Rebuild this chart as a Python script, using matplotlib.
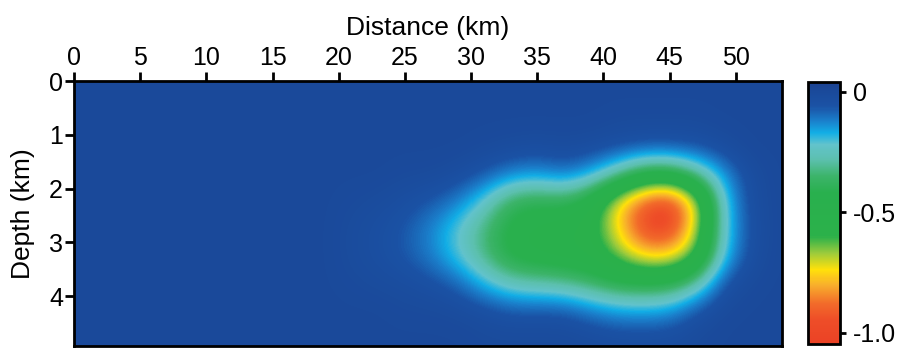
import numpy as np
import matplotlib
matplotlib.use("Agg")
import matplotlib.pyplot as plt
from matplotlib.colors import LinearSegmentedColormap, Normalize

plt.rcParams['font.family'] = ['Liberation Sans', 'DejaVu Sans']
plt.rcParams['axes.unicode_minus'] = False

# ---- data -------------------------------------------------------------
# grid cell centres (km)
x_centers = [1, 3, 5, 7, 9, 11, 13, 15, 17, 19, 21, 23, 25, 27,
             29, 31, 33, 35, 37, 39, 41, 43, 45, 47, 49, 51, 53]
depth_centers = [0.25, 0.75, 1.25, 1.75, 2.25, 2.75, 3.25, 3.75, 4.25, 4.75]

# values for x = 21 ... 53 (columns x = 1 ... 19 are background 0)
row_d025 = [0, 0, 0, 0, 0, 0, 0, 0, 0, 0, 0, 0, 0, 0, 0, 0, 0]
row_d075 = [0, 0, 0, 0, 0, 0, 0, 0, 0, 0, -0.01, -0.01, -0.01, -0.01, 0, 0, 0]
row_d125 = [0, 0, 0, 0, 0, -0.01, -0.02, -0.03, -0.02, -0.03, -0.05, -0.07, -0.07, -0.06, -0.03, 0, 0]
row_d175 = [0, 0, -0.01, -0.01, -0.03, -0.07, -0.13, -0.15, -0.11, -0.17, -0.30, -0.45, -0.46, -0.32, -0.15, -0.03, 0]
row_d225 = [-0.01, -0.02, -0.04, -0.07, -0.12, -0.23, -0.39, -0.42, -0.40, -0.49, -0.74, -0.92, -1.00, -0.72, -0.21, -0.04, 0]
row_d275 = [-0.02, -0.04, -0.07, -0.13, -0.22, -0.34, -0.45, -0.48, -0.50, -0.55, -0.74, -0.97, -1.00, -0.70, -0.22, -0.05, 0]
row_d325 = [-0.02, -0.04, -0.07, -0.12, -0.21, -0.33, -0.45, -0.48, -0.50, -0.52, -0.64, -0.76, -0.76, -0.60, -0.20, -0.04, 0]
row_d375 = [-0.01, -0.02, -0.03, -0.05, -0.09, -0.19, -0.27, -0.29, -0.31, -0.36, -0.42, -0.43, -0.42, -0.30, -0.06, -0.01, 0]
row_d425 = [0, 0, -0.01, -0.01, -0.02, -0.04, -0.07, -0.07, -0.07, -0.12, -0.16, -0.17, -0.15, -0.06, -0.01, 0, 0]
row_d475 = [0, 0, 0, 0, 0, -0.01, -0.01, -0.01, -0.01, -0.02, -0.03, -0.03, -0.03, -0.01, 0, 0, 0]

x_ticks = [0, 5, 10, 15, 20, 25, 30, 35, 40, 45, 50]
y_ticks = [0, 1, 2, 3, 4]
cbar_ticks = [0, -0.5, -1.0]
cbar_labels = ['0', '-0.5', '-1.0']

# colour scale: (value, colour)
cmap_stops = [(0.04, '#1c4191'), (0.0, '#1a4a9b'), (-0.06, '#1b52a5'),
              (-0.12, '#1a80cc'), (-0.17, '#12aee6'), (-0.22, '#62c3cc'),
              (-0.28, '#5cc0ae'), (-0.35, '#3cb46a'), (-0.42, '#29b04e'),
              (-0.60, '#2bb14a'), (-0.67, '#9ccb3c'), (-0.74, '#ffe10a'),
              (-0.80, '#f8b02c'), (-0.88, '#f26b2a'), (-0.95, '#ee4d28'),
              (-1.046, '#eb4225')]
vmin, vmax = -1.046, 0.04

# ---- build field --------------------------------------------------------
rows = [row_d025, row_d075, row_d125, row_d175, row_d225,
        row_d275, row_d325, row_d375, row_d425, row_d475]
n_bg = len(x_centers) - len(row_d025)
field = np.array([[0.0] * n_bg + r for r in rows])

stops = sorted(cmap_stops, key=lambda s: s[0])
cmap = LinearSegmentedColormap.from_list(
    'anom', [((v - vmin) / (vmax - vmin), c) for v, c in stops])
norm = Normalize(vmin=vmin, vmax=vmax)

dx = x_centers[1] - x_centers[0]
dd = depth_centers[1] - depth_centers[0]
extent = [x_centers[0] - dx / 2, x_centers[-1] + dx / 2,
          depth_centers[-1] + dd / 2, depth_centers[0] - dd / 2]

fig = plt.figure(figsize=(9.07, 3.5), dpi=100)
ax = fig.add_axes([0.0816, 0.0114, 0.7806, 0.7571])
im = ax.imshow(field, cmap=cmap, norm=norm, extent=extent, aspect='auto',
               interpolation='bicubic')
ax.set_xlim(0, 53.5)
ax.set_ylim(4.93, 0)

ax.xaxis.tick_top()
ax.xaxis.set_label_position('top')
ax.set_xticks(x_ticks)
ax.set_yticks(y_ticks)
ax.tick_params(axis='both', direction='out', length=6.5, width=2,
               labelsize=18, pad=1.5)
ax.set_xlabel('Distance (km)', fontsize=19, labelpad=8)
ax.set_ylabel('Depth (km)', fontsize=19, labelpad=10)
for s in ax.spines.values():
    s.set_linewidth(2)

cax = fig.add_axes([0.8909, 0.0171, 0.0353, 0.749])
cb = fig.colorbar(im, cax=cax, ticks=cbar_ticks)
cb.ax.set_yticklabels(cbar_labels)
cb.ax.tick_params(direction='out', length=4, width=2, labelsize=18, pad=5)
cb.outline.set_linewidth(2)

fig.savefig('out.png', dpi=100)
